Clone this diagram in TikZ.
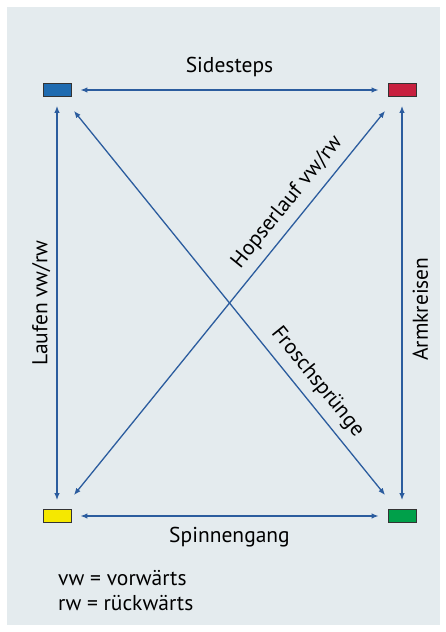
\documentclass[tikz,border=0pt]{standalone}
\usepackage{fontspec}
\setmainfont{PT Sans}
\usetikzlibrary{arrows.meta, positioning}
\definecolor{cpanel}{HTML}{E4EBEE}
\definecolor{carrow}{HTML}{2B5C9E}
\definecolor{cblue}{HTML}{1F6BB0}
\definecolor{cred}{HTML}{C8203F}
\definecolor{cyellow}{HTML}{F5E800}
\definecolor{cgreen}{HTML}{00A04A}
\definecolor{cframe}{HTML}{333333}
\tikzset{
  every picture/.style={font=\fontsize{21.5}{24}\selectfont},
  station/.style={draw=cframe, fill=#1, line width=0.8pt, minimum width=28pt, minimum height=13pt, inner sep=0pt},
  station/.default=cblue,
  link/.style={{Latex[length=7pt,width=5.5pt]}-{Latex[length=7pt,width=5.5pt]}, draw=carrow, line width=1.3pt, shorten <=9pt, shorten >=9pt},
  cross/.style={link, shorten <=18pt, shorten >=18pt},
  label/.style={inner sep=2pt},
  legend/.style={anchor=west, inner sep=0pt},
}

\begin{document}
\begin{tikzpicture}[x=1pt, y=1pt]
  \useasboundingbox (0,0) rectangle (445,632);
  \fill[cpanel] (7,7) rectangle (440,625);
  % the four stations
  \node[station=cblue]   (blue)   at (57,542)  {};
  \node[station=cred]    (red)    at (402,542) {};
  \node[station=cyellow] (yellow) at (57,116)  {};
  \node[station=cgreen]  (green)  at (402,116) {};
  % sides
  \draw[link] (blue) -- (red) node[midway, above=11pt, label] {Sidesteps};
  \draw[link] (yellow) -- (green) node[midway, below=9pt, label] {Spinnengang};
  \draw[link] (yellow) -- (blue) node[midway, sloped, above=4pt, label] {Laufen vw/rw};
  \draw[link] (green) -- (red) node[pos=0.485, sloped, below=8pt, label] {Armkreisen};
  % diagonals
  \draw[cross] (yellow) -- (red) node[pos=0.716, sloped, above=6pt, label] {Hopserlauf vw/rw};
  \draw[cross] (blue) -- (green) node[pos=0.72, sloped, above=6pt, label] {Froschsprünge};
  % legend
  \node[legend] (vw) at (58,54) {vw = vorwärts};
  \node[legend] (rw) at (58,29) {rw = rückwärts};
\end{tikzpicture}
\end{document}
